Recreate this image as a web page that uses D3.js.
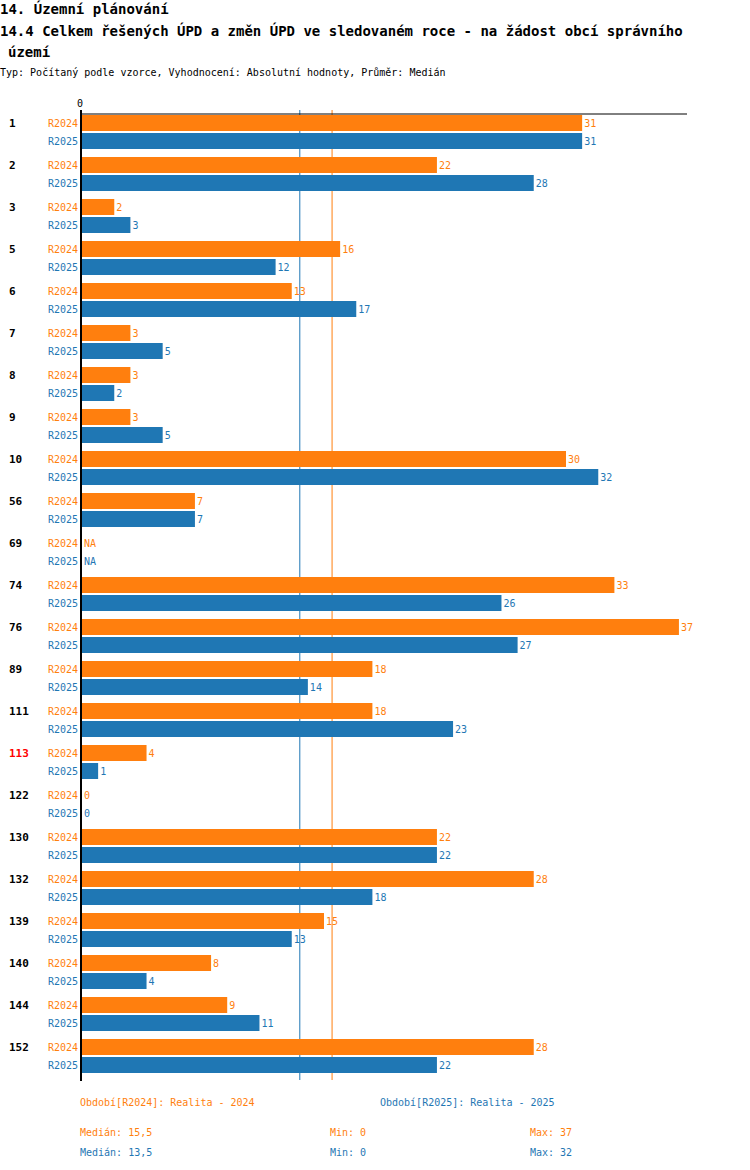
<!DOCTYPE html>
<meta charset="utf-8">
<style>
body { margin: 0; background: #fff; font-family: "DejaVu Sans Mono", monospace; }
text { font-family: "DejaVu Sans Mono", monospace; }
</style>
<script src="https://cdn.jsdelivr.net/npm/d3@7"></script>
<body>
<script>
var categories = ["1","2","3","5","6","7","8","9","10","56","69","74","76","89","111","113","122","130","132","139","140","144","152"];
var r2024 = [31,22,2,16,13,3,3,3,30,7,null,33,37,18,18,4,0,22,28,15,8,9,28];
var r2025 = [31,28,3,12,17,5,2,5,32,7,null,26,27,14,23,1,0,22,18,13,4,11,22];
var highlighted = ["113"];
var medians = {R2024: 15.5, R2025: 13.5};
var stats = [
  {k: "R2024", med: "15,5", min: "0", max: "37"},
  {k: "R2025", med: "13,5", min: "0", max: "32"}
];
var colors = {R2024: "#ff7f0e", R2025: "#1f77b4"};

var svg = d3.select("body").append("svg").attr("width", 750).attr("height", 1170);

svg.append("text").attr("x", 0).attr("y", 14).attr("font-size", 14).attr("font-weight", "bold")
  .text("14. Územní plánování");
svg.append("text").attr("x", 0).attr("y", 36).attr("font-size", 14).attr("font-weight", "bold")
  .text("14.4 Celkem řešených ÚPD a změn ÚPD ve sledovaném roce - na žádost obcí správního");
svg.append("text").attr("x", 8).attr("y", 57).attr("font-size", 14).attr("font-weight", "bold")
  .text("území");
svg.append("text").attr("x", 0).attr("y", 76).attr("font-size", 10)
  .text("Typ: Počítaný podle vzorce, Vyhodnocení: Absolutní hodnoty, Průměr: Medián");

var x = d3.scaleLinear().domain([0, 37.5]).range([82, 687]);
var y = d3.scaleBand().domain(categories).range([115, 115 + 42 * categories.length]).paddingInner(0).paddingOuter(0);

// median lines
["R2025", "R2024"].forEach(function(k) {
  svg.append("line").attr("x1", x(medians[k])).attr("x2", x(medians[k]))
    .attr("y1", 110).attr("y2", 1080).attr("stroke", colors[k]).attr("stroke-width", 1);
});

var g = svg.selectAll(".grp").data(categories).enter().append("g")
  .attr("transform", function(d) { return "translate(0," + y(d) + ")"; });

g.append("text").attr("x", 9).attr("y", 12).attr("font-size", 11).attr("font-weight", "bold")
  .attr("fill", function(d) { return highlighted.indexOf(d) >= 0 ? "#ff0000" : "#000"; })
  .text(function(d) { return d; });

[["R2024", r2024, 0], ["R2025", r2025, 18]].forEach(function(s) {
  var k = s[0], vals = s[1], off = s[2];
  g.append("text").attr("x", 78).attr("y", off + 12).attr("text-anchor", "end")
    .attr("font-size", 10).attr("fill", colors[k]).text(k);
  g.append("rect").attr("x", x(0)).attr("y", off)
    .attr("width", function(d, i) { return vals[i] == null ? 0 : x(vals[i]) - x(0); })
    .attr("height", 16).attr("fill", colors[k]);
  g.append("text").attr("x", function(d, i) { return x(vals[i] || 0) + 2; })
    .attr("y", off + 12).attr("font-size", 10).attr("fill", colors[k])
    .text(function(d, i) { return vals[i] == null ? "NA" : vals[i]; });
});

// axes
svg.append("line").attr("x1", 80).attr("x2", 687).attr("y1", 114).attr("y2", 114).attr("stroke", "#000");
svg.append("line").attr("x1", 81).attr("x2", 81).attr("y1", 110).attr("y2", 1081).attr("stroke", "#000").attr("stroke-width", 2);
svg.append("text").attr("x", 80).attr("y", 107).attr("font-size", 10).attr("text-anchor", "middle").text("0");

// legend
svg.append("text").attr("x", 80).attr("y", 1106).attr("font-size", 10).attr("fill", colors.R2024).text("Období[R2024]: Realita - 2024");
svg.append("text").attr("x", 380).attr("y", 1106).attr("font-size", 10).attr("fill", colors.R2025).text("Období[R2025]: Realita - 2025");
stats.forEach(function(s, i) {
  var yy = 1136 + i * 20;
  svg.append("text").attr("x", 80).attr("y", yy).attr("font-size", 10).attr("fill", colors[s.k]).text("Medián: " + s.med);
  svg.append("text").attr("x", 330).attr("y", yy).attr("font-size", 10).attr("fill", colors[s.k]).text("Min: " + s.min);
  svg.append("text").attr("x", 530).attr("y", yy).attr("font-size", 10).attr("fill", colors[s.k]).text("Max: " + s.max);
});
</script>
